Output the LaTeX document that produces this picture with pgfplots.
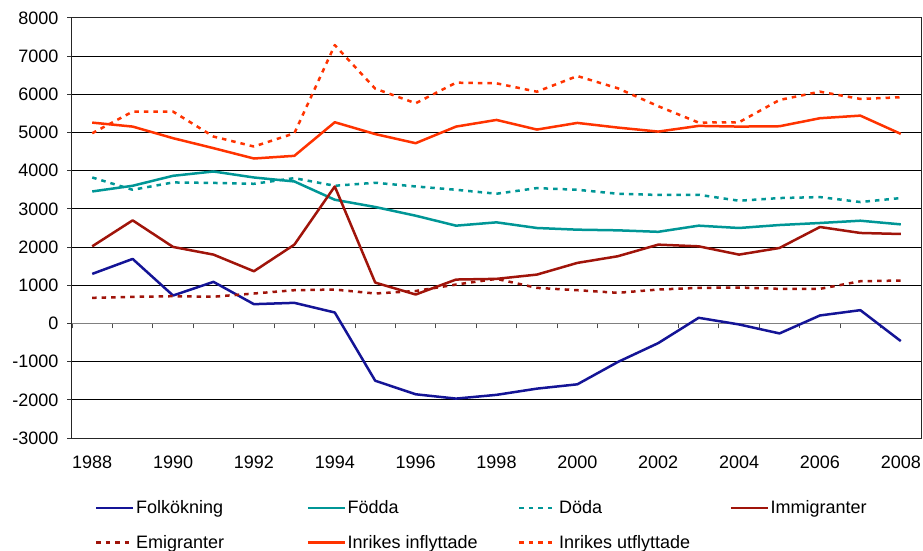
\documentclass[border=0pt]{standalone}
\usepackage{pgfplots}
\usepackage{pgfplotstable}
\pgfplotsset{compat=1.18}
\usepackage{fontspec}
\setmainfont{Liberation Sans}
\definecolor{cblue}{RGB}{20,20,150}
\definecolor{cteal}{RGB}{0,150,150}
\definecolor{cdred}{RGB}{160,20,10}
\definecolor{cored}{RGB}{255,51,0}
\pgfplotstableread{
year folk fodda doda immi emi infl utfl
1988 1298 3457 3823 2020 671 5260 4982
1989 1690 3606 3501 2700 697 5156 5548
1990 732 3867 3693 2004 714 4852 5548
1991 1089 3980 3680 1803 700 4591 4895
1992 505 3823 3658 1367 784 4320 4634
1993 540 3719 3806 2064 871 4390 4980
1994 287 3240 3606 3588 888 5270 7290
1995 -1500 3050 3685 1070 784 4960 6150
1996 -1855 2822 3588 758 850 4721 5767
1997 -1968 2561 3501 1150 1019 5156 6306
1998 -1870 2648 3397 1168 1168 5330 6289
1999 -1707 2500 3545 1280 932 5078 6070
2000 -1594 2456 3501 1586 871 5252 6480
2001 -1010 2439 3397 1760 802 5130 6159
2002 -515 2400 3365 2064 888 5025 5690
2003 148 2561 3370 2020 932 5174 5260
2004 -26 2500 3214 1803 941 5156 5270
2005 -261 2578 3284 1977 906 5165 5853
2006 209 2631 3310 2526 906 5375 6070
2007 348 2691 3180 2370 1106 5443 5880
2008 -462 2595 3284 2343 1124 4965 5924
}\datatable
\pgfplotsset{every axis/.append style={/pgf/number format/1000 sep={}, /pgf/number format/assume math mode=true}}
\newcommand{\lf}{\fontsize{18}{21}\selectfont}
\begin{document}
\begin{tikzpicture}
\useasboundingbox (-72pt,-113pt) rectangle (851pt,438pt);
% category tick axis at y = 0
\begin{axis}[at={(0pt,114.545pt)}, anchor=south west, scale only axis,
  width=849pt, height=305.455pt,
  xmin=1987.5, xmax=2008.5, ymin=0, ymax=8000,
  axis x line*=bottom, axis y line=none,
  xtick={1987.5,1988.5,...,2008.5}, xticklabels={},
  tick align=outside, major tick length=5pt,
  axis line style={draw=gray, line width=1pt},
  xtick style={draw=black!70, line width=1pt}]
\end{axis}
\begin{axis}[at={(0pt,0pt)}, anchor=south west, scale only axis,
  width=849pt, height=420pt,
  xmin=1987.5, xmax=2008.5, ymin=-3000, ymax=8000,
  xtick={1988,1990,...,2008}, xtick style={draw=none},
  ytick={-3000,-2000,-1000,1000,2000,3000,4000,5000,6000,7000,8000},
  extra y ticks={0}, extra y tick style={grid=none},
  ymajorgrids, major grid style={black, line width=1pt},
  ytick pos=left, tick align=outside, major tick length=5pt,
  ytick style={black!80, line width=1pt},
  axis line style={black!85, line width=1pt},
  tick label style={font=\lf},
  xticklabel style={yshift=-9pt},
  yticklabel style={xshift=-5pt},
  legend columns=4,
  legend cell align=left,
  legend style={draw=none, fill=none, inner sep=0pt, at={(0,0)}, anchor=north west,
    xshift=23pt, yshift=-61pt, font=\lf, row sep=17pt,
    nodes={inner sep=1.5pt},
    /tikz/every even column/.append style={column sep=0pt}},
  legend image code/.code={\draw[#1] (0pt,0pt) -- (37pt,0pt);},
  every axis plot/.append style={line width=2.5pt, line join=round},
]
\addplot[cblue] table[x=year,y=folk]{\datatable};
\addlegendentry{\makebox[169pt][l]{Folkökning}}
\addplot[cteal] table[x=year,y=fodda]{\datatable};
\addlegendentry{\makebox[169pt][l]{Födda}}
\addplot[cteal, dash pattern=on 4.5pt off 5pt] table[x=year,y=doda]{\datatable};
\addlegendentry{\makebox[169pt][l]{Döda}}
\addplot[cdred] table[x=year,y=immi]{\datatable};
\addlegendentry{\makebox[169pt][l]{Immigranter}}
\addplot[cdred, dash pattern=on 4.5pt off 5pt] table[x=year,y=emi]{\datatable};
\addlegendentry{\makebox[169pt][l]{Emigranter}}
\addplot[cored] table[x=year,y=infl]{\datatable};
\addlegendentry{\makebox[169pt][l]{Inrikes inflyttade}}
\addplot[cored, dash pattern=on 4.5pt off 5pt] table[x=year,y=utfl]{\datatable};
\addlegendentry{\makebox[169pt][l]{Inrikes utflyttade}}
\end{axis}
\end{tikzpicture}
\end{document}
